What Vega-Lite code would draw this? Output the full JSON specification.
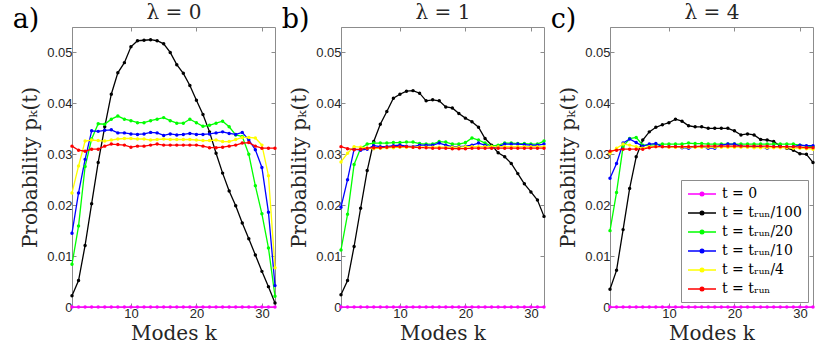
{
"$schema": "https://vega.github.io/schema/vega-lite/v6.json",
"background": "white",
"padding": {"left": 12, "top": 2, "right": 4, "bottom": 2},
"config": {
 "view": {"stroke": "#8c8c8c", "strokeWidth": 1},
 "axis": {"labelFont": "Liberation Sans, Arial, Helvetica, sans-serif", "labelFontSize": 13, "labelColor": "#262626", "titleFont": "DejaVu Serif, Liberation Serif, serif", "titleFontSize": 20, "titleFontWeight": "normal", "titleColor": "#262626", "domainColor": "#8c8c8c", "tickColor": "#8c8c8c", "tickSize": -4, "grid": false, "labelPadding": 4},
 "title": {"font": "DejaVu Serif, Liberation Serif, serif", "fontSize": 27, "fontWeight": "normal", "anchor": "start", "frame": "bounds", "color": "#000000"},
 "concat": {"spacing": 2}
},
"data": {"values": [
{"g":"a","s":"t0","k":1,"p":0},{"g":"a","s":"t0","k":2,"p":0},{"g":"a","s":"t0","k":3,"p":0},{"g":"a","s":"t0","k":4,"p":0},{"g":"a","s":"t0","k":5,"p":0},{"g":"a","s":"t0","k":6,"p":0},{"g":"a","s":"t0","k":7,"p":0},{"g":"a","s":"t0","k":8,"p":0},{"g":"a","s":"t0","k":9,"p":0},{"g":"a","s":"t0","k":10,"p":0},{"g":"a","s":"t0","k":11,"p":0},{"g":"a","s":"t0","k":12,"p":0},{"g":"a","s":"t0","k":13,"p":0},{"g":"a","s":"t0","k":14,"p":0},{"g":"a","s":"t0","k":15,"p":0},{"g":"a","s":"t0","k":16,"p":0},{"g":"a","s":"t0","k":17,"p":0},{"g":"a","s":"t0","k":18,"p":0},{"g":"a","s":"t0","k":19,"p":0},{"g":"a","s":"t0","k":20,"p":0},{"g":"a","s":"t0","k":21,"p":0},{"g":"a","s":"t0","k":22,"p":0},{"g":"a","s":"t0","k":23,"p":0},{"g":"a","s":"t0","k":24,"p":0},{"g":"a","s":"t0","k":25,"p":0},{"g":"a","s":"t0","k":26,"p":0},{"g":"a","s":"t0","k":27,"p":0},{"g":"a","s":"t0","k":28,"p":0},{"g":"a","s":"t0","k":29,"p":0},{"g":"a","s":"t0","k":30,"p":0},{"g":"a","s":"t0","k":31,"p":0},{"g":"a","s":"t0","k":32,"p":0},
{"g":"a","s":"t100","k":1,"p":0.0022},{"g":"a","s":"t100","k":2,"p":0.0052},{"g":"a","s":"t100","k":3,"p":0.0121},{"g":"a","s":"t100","k":4,"p":0.0203},{"g":"a","s":"t100","k":5,"p":0.0284},{"g":"a","s":"t100","k":6,"p":0.0354},{"g":"a","s":"t100","k":7,"p":0.0418},{"g":"a","s":"t100","k":8,"p":0.046},{"g":"a","s":"t100","k":9,"p":0.048},{"g":"a","s":"t100","k":10,"p":0.0511},{"g":"a","s":"t100","k":11,"p":0.0523},{"g":"a","s":"t100","k":12,"p":0.0524},{"g":"a","s":"t100","k":13,"p":0.0525},{"g":"a","s":"t100","k":14,"p":0.0523},{"g":"a","s":"t100","k":15,"p":0.0517},{"g":"a","s":"t100","k":16,"p":0.05},{"g":"a","s":"t100","k":17,"p":0.0476},{"g":"a","s":"t100","k":18,"p":0.0459},{"g":"a","s":"t100","k":19,"p":0.0435},{"g":"a","s":"t100","k":20,"p":0.0406},{"g":"a","s":"t100","k":21,"p":0.0378},{"g":"a","s":"t100","k":22,"p":0.0344},{"g":"a","s":"t100","k":23,"p":0.0302},{"g":"a","s":"t100","k":24,"p":0.0263},{"g":"a","s":"t100","k":25,"p":0.0228},{"g":"a","s":"t100","k":26,"p":0.0199},{"g":"a","s":"t100","k":27,"p":0.0165},{"g":"a","s":"t100","k":28,"p":0.0134},{"g":"a","s":"t100","k":29,"p":0.0102},{"g":"a","s":"t100","k":30,"p":0.007},{"g":"a","s":"t100","k":31,"p":0.004},{"g":"a","s":"t100","k":32,"p":0.0008},
{"g":"a","s":"t20","k":1,"p":0.0084},{"g":"a","s":"t20","k":2,"p":0.0159},{"g":"a","s":"t20","k":3,"p":0.0276},{"g":"a","s":"t20","k":4,"p":0.033},{"g":"a","s":"t20","k":5,"p":0.036},{"g":"a","s":"t20","k":6,"p":0.0359},{"g":"a","s":"t20","k":7,"p":0.0369},{"g":"a","s":"t20","k":8,"p":0.0375},{"g":"a","s":"t20","k":9,"p":0.0369},{"g":"a","s":"t20","k":10,"p":0.0366},{"g":"a","s":"t20","k":11,"p":0.0362},{"g":"a","s":"t20","k":12,"p":0.0362},{"g":"a","s":"t20","k":13,"p":0.0366},{"g":"a","s":"t20","k":14,"p":0.0369},{"g":"a","s":"t20","k":15,"p":0.0372},{"g":"a","s":"t20","k":16,"p":0.0366},{"g":"a","s":"t20","k":17,"p":0.0361},{"g":"a","s":"t20","k":18,"p":0.0361},{"g":"a","s":"t20","k":19,"p":0.0369},{"g":"a","s":"t20","k":20,"p":0.0362},{"g":"a","s":"t20","k":21,"p":0.0355},{"g":"a","s":"t20","k":22,"p":0.0357},{"g":"a","s":"t20","k":23,"p":0.0361},{"g":"a","s":"t20","k":24,"p":0.0365},{"g":"a","s":"t20","k":25,"p":0.0354},{"g":"a","s":"t20","k":26,"p":0.0338},{"g":"a","s":"t20","k":27,"p":0.0335},{"g":"a","s":"t20","k":28,"p":0.03},{"g":"a","s":"t20","k":29,"p":0.0238},{"g":"a","s":"t20","k":30,"p":0.0183},{"g":"a","s":"t20","k":31,"p":0.0116},{"g":"a","s":"t20","k":32,"p":0.0021},
{"g":"a","s":"t10","k":1,"p":0.0145},{"g":"a","s":"t10","k":2,"p":0.0224},{"g":"a","s":"t10","k":3,"p":0.029},{"g":"a","s":"t10","k":4,"p":0.0346},{"g":"a","s":"t10","k":5,"p":0.0345},{"g":"a","s":"t10","k":6,"p":0.0347},{"g":"a","s":"t10","k":7,"p":0.0348},{"g":"a","s":"t10","k":8,"p":0.0342},{"g":"a","s":"t10","k":9,"p":0.0342},{"g":"a","s":"t10","k":10,"p":0.034},{"g":"a","s":"t10","k":11,"p":0.0339},{"g":"a","s":"t10","k":12,"p":0.034},{"g":"a","s":"t10","k":13,"p":0.0343},{"g":"a","s":"t10","k":14,"p":0.0342},{"g":"a","s":"t10","k":15,"p":0.0337},{"g":"a","s":"t10","k":16,"p":0.034},{"g":"a","s":"t10","k":17,"p":0.0338},{"g":"a","s":"t10","k":18,"p":0.0339},{"g":"a","s":"t10","k":19,"p":0.0341},{"g":"a","s":"t10","k":20,"p":0.0339},{"g":"a","s":"t10","k":21,"p":0.0339},{"g":"a","s":"t10","k":22,"p":0.034},{"g":"a","s":"t10","k":23,"p":0.0342},{"g":"a","s":"t10","k":24,"p":0.0344},{"g":"a","s":"t10","k":25,"p":0.0341},{"g":"a","s":"t10","k":26,"p":0.0339},{"g":"a","s":"t10","k":27,"p":0.0343},{"g":"a","s":"t10","k":28,"p":0.0328},{"g":"a","s":"t10","k":29,"p":0.0309},{"g":"a","s":"t10","k":30,"p":0.0274},{"g":"a","s":"t10","k":31,"p":0.0186},{"g":"a","s":"t10","k":32,"p":0.0042},
{"g":"a","s":"t4","k":1,"p":0.0224},{"g":"a","s":"t4","k":2,"p":0.0277},{"g":"a","s":"t4","k":3,"p":0.0326},{"g":"a","s":"t4","k":4,"p":0.0328},{"g":"a","s":"t4","k":5,"p":0.0327},{"g":"a","s":"t4","k":6,"p":0.0326},{"g":"a","s":"t4","k":7,"p":0.0328},{"g":"a","s":"t4","k":8,"p":0.033},{"g":"a","s":"t4","k":9,"p":0.0331},{"g":"a","s":"t4","k":10,"p":0.0331},{"g":"a","s":"t4","k":11,"p":0.033},{"g":"a","s":"t4","k":12,"p":0.033},{"g":"a","s":"t4","k":13,"p":0.0328},{"g":"a","s":"t4","k":14,"p":0.0329},{"g":"a","s":"t4","k":15,"p":0.033},{"g":"a","s":"t4","k":16,"p":0.0329},{"g":"a","s":"t4","k":17,"p":0.0329},{"g":"a","s":"t4","k":18,"p":0.0329},{"g":"a","s":"t4","k":19,"p":0.0329},{"g":"a","s":"t4","k":20,"p":0.0328},{"g":"a","s":"t4","k":21,"p":0.0327},{"g":"a","s":"t4","k":22,"p":0.0327},{"g":"a","s":"t4","k":23,"p":0.0328},{"g":"a","s":"t4","k":24,"p":0.0325},{"g":"a","s":"t4","k":25,"p":0.0325},{"g":"a","s":"t4","k":26,"p":0.0329},{"g":"a","s":"t4","k":27,"p":0.0333},{"g":"a","s":"t4","k":28,"p":0.0333},{"g":"a","s":"t4","k":29,"p":0.0332},{"g":"a","s":"t4","k":30,"p":0.0318},{"g":"a","s":"t4","k":31,"p":0.0258},{"g":"a","s":"t4","k":32,"p":0.0077},
{"g":"a","s":"t1","k":1,"p":0.0316},{"g":"a","s":"t1","k":2,"p":0.0308},{"g":"a","s":"t1","k":3,"p":0.0306},{"g":"a","s":"t1","k":4,"p":0.031},{"g":"a","s":"t1","k":5,"p":0.031},{"g":"a","s":"t1","k":6,"p":0.0316},{"g":"a","s":"t1","k":7,"p":0.032},{"g":"a","s":"t1","k":8,"p":0.0319},{"g":"a","s":"t1","k":9,"p":0.0318},{"g":"a","s":"t1","k":10,"p":0.0314},{"g":"a","s":"t1","k":11,"p":0.0316},{"g":"a","s":"t1","k":12,"p":0.0316},{"g":"a","s":"t1","k":13,"p":0.0318},{"g":"a","s":"t1","k":14,"p":0.032},{"g":"a","s":"t1","k":15,"p":0.0318},{"g":"a","s":"t1","k":16,"p":0.0318},{"g":"a","s":"t1","k":17,"p":0.0318},{"g":"a","s":"t1","k":18,"p":0.0318},{"g":"a","s":"t1","k":19,"p":0.0318},{"g":"a","s":"t1","k":20,"p":0.0318},{"g":"a","s":"t1","k":21,"p":0.0316},{"g":"a","s":"t1","k":22,"p":0.0313},{"g":"a","s":"t1","k":23,"p":0.0313},{"g":"a","s":"t1","k":24,"p":0.0314},{"g":"a","s":"t1","k":25,"p":0.0316},{"g":"a","s":"t1","k":26,"p":0.0318},{"g":"a","s":"t1","k":27,"p":0.0322},{"g":"a","s":"t1","k":28,"p":0.0323},{"g":"a","s":"t1","k":29,"p":0.0316},{"g":"a","s":"t1","k":30,"p":0.0312},{"g":"a","s":"t1","k":31,"p":0.0312},{"g":"a","s":"t1","k":32,"p":0.0312},
{"g":"b","s":"t0","k":1,"p":0},{"g":"b","s":"t0","k":2,"p":0},{"g":"b","s":"t0","k":3,"p":0},{"g":"b","s":"t0","k":4,"p":0},{"g":"b","s":"t0","k":5,"p":0},{"g":"b","s":"t0","k":6,"p":0},{"g":"b","s":"t0","k":7,"p":0},{"g":"b","s":"t0","k":8,"p":0},{"g":"b","s":"t0","k":9,"p":0},{"g":"b","s":"t0","k":10,"p":0},{"g":"b","s":"t0","k":11,"p":0},{"g":"b","s":"t0","k":12,"p":0},{"g":"b","s":"t0","k":13,"p":0},{"g":"b","s":"t0","k":14,"p":0},{"g":"b","s":"t0","k":15,"p":0},{"g":"b","s":"t0","k":16,"p":0},{"g":"b","s":"t0","k":17,"p":0},{"g":"b","s":"t0","k":18,"p":0},{"g":"b","s":"t0","k":19,"p":0},{"g":"b","s":"t0","k":20,"p":0},{"g":"b","s":"t0","k":21,"p":0},{"g":"b","s":"t0","k":22,"p":0},{"g":"b","s":"t0","k":23,"p":0},{"g":"b","s":"t0","k":24,"p":0},{"g":"b","s":"t0","k":25,"p":0},{"g":"b","s":"t0","k":26,"p":0},{"g":"b","s":"t0","k":27,"p":0},{"g":"b","s":"t0","k":28,"p":0},{"g":"b","s":"t0","k":29,"p":0},{"g":"b","s":"t0","k":30,"p":0},{"g":"b","s":"t0","k":31,"p":0},{"g":"b","s":"t0","k":32,"p":0},
{"g":"b","s":"t100","k":1,"p":0.0024},{"g":"b","s":"t100","k":2,"p":0.0052},{"g":"b","s":"t100","k":3,"p":0.0119},{"g":"b","s":"t100","k":4,"p":0.0194},{"g":"b","s":"t100","k":5,"p":0.0268},{"g":"b","s":"t100","k":6,"p":0.0325},{"g":"b","s":"t100","k":7,"p":0.0359},{"g":"b","s":"t100","k":8,"p":0.0384},{"g":"b","s":"t100","k":9,"p":0.041},{"g":"b","s":"t100","k":10,"p":0.0418},{"g":"b","s":"t100","k":11,"p":0.0424},{"g":"b","s":"t100","k":12,"p":0.0425},{"g":"b","s":"t100","k":13,"p":0.042},{"g":"b","s":"t100","k":14,"p":0.0405},{"g":"b","s":"t100","k":15,"p":0.0407},{"g":"b","s":"t100","k":16,"p":0.0405},{"g":"b","s":"t100","k":17,"p":0.0393},{"g":"b","s":"t100","k":18,"p":0.0391},{"g":"b","s":"t100","k":19,"p":0.038},{"g":"b","s":"t100","k":20,"p":0.0371},{"g":"b","s":"t100","k":21,"p":0.0364},{"g":"b","s":"t100","k":22,"p":0.0353},{"g":"b","s":"t100","k":23,"p":0.0331},{"g":"b","s":"t100","k":24,"p":0.0318},{"g":"b","s":"t100","k":25,"p":0.0303},{"g":"b","s":"t100","k":26,"p":0.0295},{"g":"b","s":"t100","k":27,"p":0.0282},{"g":"b","s":"t100","k":28,"p":0.0262},{"g":"b","s":"t100","k":29,"p":0.0242},{"g":"b","s":"t100","k":30,"p":0.0226},{"g":"b","s":"t100","k":31,"p":0.021},{"g":"b","s":"t100","k":32,"p":0.0178},
{"g":"b","s":"t20","k":1,"p":0.0112},{"g":"b","s":"t20","k":2,"p":0.0182},{"g":"b","s":"t20","k":3,"p":0.028},{"g":"b","s":"t20","k":4,"p":0.0312},{"g":"b","s":"t20","k":5,"p":0.032},{"g":"b","s":"t20","k":6,"p":0.0322},{"g":"b","s":"t20","k":7,"p":0.0322},{"g":"b","s":"t20","k":8,"p":0.0322},{"g":"b","s":"t20","k":9,"p":0.0323},{"g":"b","s":"t20","k":10,"p":0.0323},{"g":"b","s":"t20","k":11,"p":0.0324},{"g":"b","s":"t20","k":12,"p":0.0324},{"g":"b","s":"t20","k":13,"p":0.0321},{"g":"b","s":"t20","k":14,"p":0.032},{"g":"b","s":"t20","k":15,"p":0.032},{"g":"b","s":"t20","k":16,"p":0.0325},{"g":"b","s":"t20","k":17,"p":0.0324},{"g":"b","s":"t20","k":18,"p":0.032},{"g":"b","s":"t20","k":19,"p":0.032},{"g":"b","s":"t20","k":20,"p":0.0323},{"g":"b","s":"t20","k":21,"p":0.0332},{"g":"b","s":"t20","k":22,"p":0.0328},{"g":"b","s":"t20","k":23,"p":0.0322},{"g":"b","s":"t20","k":24,"p":0.0316},{"g":"b","s":"t20","k":25,"p":0.0318},{"g":"b","s":"t20","k":26,"p":0.0322},{"g":"b","s":"t20","k":27,"p":0.0322},{"g":"b","s":"t20","k":28,"p":0.0321},{"g":"b","s":"t20","k":29,"p":0.0321},{"g":"b","s":"t20","k":30,"p":0.032},{"g":"b","s":"t20","k":31,"p":0.032},{"g":"b","s":"t20","k":32,"p":0.0326},
{"g":"b","s":"t10","k":1,"p":0.0196},{"g":"b","s":"t10","k":2,"p":0.025},{"g":"b","s":"t10","k":3,"p":0.031},{"g":"b","s":"t10","k":4,"p":0.0308},{"g":"b","s":"t10","k":5,"p":0.031},{"g":"b","s":"t10","k":6,"p":0.0317},{"g":"b","s":"t10","k":7,"p":0.0315},{"g":"b","s":"t10","k":8,"p":0.0315},{"g":"b","s":"t10","k":9,"p":0.0317},{"g":"b","s":"t10","k":10,"p":0.0318},{"g":"b","s":"t10","k":11,"p":0.0316},{"g":"b","s":"t10","k":12,"p":0.0315},{"g":"b","s":"t10","k":13,"p":0.0318},{"g":"b","s":"t10","k":14,"p":0.0318},{"g":"b","s":"t10","k":15,"p":0.0318},{"g":"b","s":"t10","k":16,"p":0.0322},{"g":"b","s":"t10","k":17,"p":0.0318},{"g":"b","s":"t10","k":18,"p":0.0315},{"g":"b","s":"t10","k":19,"p":0.0315},{"g":"b","s":"t10","k":20,"p":0.0316},{"g":"b","s":"t10","k":21,"p":0.0318},{"g":"b","s":"t10","k":22,"p":0.0322},{"g":"b","s":"t10","k":23,"p":0.0318},{"g":"b","s":"t10","k":24,"p":0.0313},{"g":"b","s":"t10","k":25,"p":0.0315},{"g":"b","s":"t10","k":26,"p":0.032},{"g":"b","s":"t10","k":27,"p":0.032},{"g":"b","s":"t10","k":28,"p":0.032},{"g":"b","s":"t10","k":29,"p":0.0319},{"g":"b","s":"t10","k":30,"p":0.0318},{"g":"b","s":"t10","k":31,"p":0.0318},{"g":"b","s":"t10","k":32,"p":0.032},
{"g":"b","s":"t4","k":1,"p":0.0285},{"g":"b","s":"t4","k":2,"p":0.0302},{"g":"b","s":"t4","k":3,"p":0.0315},{"g":"b","s":"t4","k":4,"p":0.0314},{"g":"b","s":"t4","k":5,"p":0.0312},{"g":"b","s":"t4","k":6,"p":0.0311},{"g":"b","s":"t4","k":7,"p":0.0312},{"g":"b","s":"t4","k":8,"p":0.0313},{"g":"b","s":"t4","k":9,"p":0.0313},{"g":"b","s":"t4","k":10,"p":0.0314},{"g":"b","s":"t4","k":11,"p":0.0314},{"g":"b","s":"t4","k":12,"p":0.0314},{"g":"b","s":"t4","k":13,"p":0.0314},{"g":"b","s":"t4","k":14,"p":0.0314},{"g":"b","s":"t4","k":15,"p":0.0314},{"g":"b","s":"t4","k":16,"p":0.0314},{"g":"b","s":"t4","k":17,"p":0.0314},{"g":"b","s":"t4","k":18,"p":0.0314},{"g":"b","s":"t4","k":19,"p":0.0314},{"g":"b","s":"t4","k":20,"p":0.0315},{"g":"b","s":"t4","k":21,"p":0.0315},{"g":"b","s":"t4","k":22,"p":0.0315},{"g":"b","s":"t4","k":23,"p":0.0315},{"g":"b","s":"t4","k":24,"p":0.0315},{"g":"b","s":"t4","k":25,"p":0.0315},{"g":"b","s":"t4","k":26,"p":0.0315},{"g":"b","s":"t4","k":27,"p":0.0315},{"g":"b","s":"t4","k":28,"p":0.0315},{"g":"b","s":"t4","k":29,"p":0.0315},{"g":"b","s":"t4","k":30,"p":0.0315},{"g":"b","s":"t4","k":31,"p":0.0315},{"g":"b","s":"t4","k":32,"p":0.0315},
{"g":"b","s":"t1","k":1,"p":0.0315},{"g":"b","s":"t1","k":2,"p":0.0311},{"g":"b","s":"t1","k":3,"p":0.0309},{"g":"b","s":"t1","k":4,"p":0.031},{"g":"b","s":"t1","k":5,"p":0.0312},{"g":"b","s":"t1","k":6,"p":0.0313},{"g":"b","s":"t1","k":7,"p":0.0313},{"g":"b","s":"t1","k":8,"p":0.0314},{"g":"b","s":"t1","k":9,"p":0.0315},{"g":"b","s":"t1","k":10,"p":0.0315},{"g":"b","s":"t1","k":11,"p":0.0315},{"g":"b","s":"t1","k":12,"p":0.0314},{"g":"b","s":"t1","k":13,"p":0.0313},{"g":"b","s":"t1","k":14,"p":0.0313},{"g":"b","s":"t1","k":15,"p":0.0312},{"g":"b","s":"t1","k":16,"p":0.0312},{"g":"b","s":"t1","k":17,"p":0.0312},{"g":"b","s":"t1","k":18,"p":0.0311},{"g":"b","s":"t1","k":19,"p":0.0311},{"g":"b","s":"t1","k":20,"p":0.0311},{"g":"b","s":"t1","k":21,"p":0.0312},{"g":"b","s":"t1","k":22,"p":0.0312},{"g":"b","s":"t1","k":23,"p":0.0312},{"g":"b","s":"t1","k":24,"p":0.0312},{"g":"b","s":"t1","k":25,"p":0.0312},{"g":"b","s":"t1","k":26,"p":0.0312},{"g":"b","s":"t1","k":27,"p":0.0312},{"g":"b","s":"t1","k":28,"p":0.0312},{"g":"b","s":"t1","k":29,"p":0.0312},{"g":"b","s":"t1","k":30,"p":0.0312},{"g":"b","s":"t1","k":31,"p":0.0312},{"g":"b","s":"t1","k":32,"p":0.0312},
{"g":"c","s":"t0","k":1,"p":0},{"g":"c","s":"t0","k":2,"p":0},{"g":"c","s":"t0","k":3,"p":0},{"g":"c","s":"t0","k":4,"p":0},{"g":"c","s":"t0","k":5,"p":0},{"g":"c","s":"t0","k":6,"p":0},{"g":"c","s":"t0","k":7,"p":0},{"g":"c","s":"t0","k":8,"p":0},{"g":"c","s":"t0","k":9,"p":0},{"g":"c","s":"t0","k":10,"p":0},{"g":"c","s":"t0","k":11,"p":0},{"g":"c","s":"t0","k":12,"p":0},{"g":"c","s":"t0","k":13,"p":0},{"g":"c","s":"t0","k":14,"p":0},{"g":"c","s":"t0","k":15,"p":0},{"g":"c","s":"t0","k":16,"p":0},{"g":"c","s":"t0","k":17,"p":0},{"g":"c","s":"t0","k":18,"p":0},{"g":"c","s":"t0","k":19,"p":0},{"g":"c","s":"t0","k":20,"p":0},{"g":"c","s":"t0","k":21,"p":0},{"g":"c","s":"t0","k":22,"p":0},{"g":"c","s":"t0","k":23,"p":0},{"g":"c","s":"t0","k":24,"p":0},{"g":"c","s":"t0","k":25,"p":0},{"g":"c","s":"t0","k":26,"p":0},{"g":"c","s":"t0","k":27,"p":0},{"g":"c","s":"t0","k":28,"p":0},{"g":"c","s":"t0","k":29,"p":0},{"g":"c","s":"t0","k":30,"p":0},{"g":"c","s":"t0","k":31,"p":0},{"g":"c","s":"t0","k":32,"p":0},
{"g":"c","s":"t100","k":1,"p":0.0035},{"g":"c","s":"t100","k":2,"p":0.0072},{"g":"c","s":"t100","k":3,"p":0.0152},{"g":"c","s":"t100","k":4,"p":0.0233},{"g":"c","s":"t100","k":5,"p":0.0295},{"g":"c","s":"t100","k":6,"p":0.0328},{"g":"c","s":"t100","k":7,"p":0.0344},{"g":"c","s":"t100","k":8,"p":0.0353},{"g":"c","s":"t100","k":9,"p":0.0358},{"g":"c","s":"t100","k":10,"p":0.0362},{"g":"c","s":"t100","k":11,"p":0.0369},{"g":"c","s":"t100","k":12,"p":0.0365},{"g":"c","s":"t100","k":13,"p":0.0356},{"g":"c","s":"t100","k":14,"p":0.0354},{"g":"c","s":"t100","k":15,"p":0.0354},{"g":"c","s":"t100","k":16,"p":0.0351},{"g":"c","s":"t100","k":17,"p":0.0351},{"g":"c","s":"t100","k":18,"p":0.0351},{"g":"c","s":"t100","k":19,"p":0.0351},{"g":"c","s":"t100","k":20,"p":0.0346},{"g":"c","s":"t100","k":21,"p":0.0338},{"g":"c","s":"t100","k":22,"p":0.034},{"g":"c","s":"t100","k":23,"p":0.0338},{"g":"c","s":"t100","k":24,"p":0.0329},{"g":"c","s":"t100","k":25,"p":0.0328},{"g":"c","s":"t100","k":26,"p":0.0325},{"g":"c","s":"t100","k":27,"p":0.0316},{"g":"c","s":"t100","k":28,"p":0.0312},{"g":"c","s":"t100","k":29,"p":0.0308},{"g":"c","s":"t100","k":30,"p":0.0301},{"g":"c","s":"t100","k":31,"p":0.03},{"g":"c","s":"t100","k":32,"p":0.0284},
{"g":"c","s":"t20","k":1,"p":0.015},{"g":"c","s":"t20","k":2,"p":0.0225},{"g":"c","s":"t20","k":3,"p":0.0315},{"g":"c","s":"t20","k":4,"p":0.0331},{"g":"c","s":"t20","k":5,"p":0.0333},{"g":"c","s":"t20","k":6,"p":0.0318},{"g":"c","s":"t20","k":7,"p":0.0318},{"g":"c","s":"t20","k":8,"p":0.0319},{"g":"c","s":"t20","k":9,"p":0.032},{"g":"c","s":"t20","k":10,"p":0.032},{"g":"c","s":"t20","k":11,"p":0.032},{"g":"c","s":"t20","k":12,"p":0.032},{"g":"c","s":"t20","k":13,"p":0.0322},{"g":"c","s":"t20","k":14,"p":0.0321},{"g":"c","s":"t20","k":15,"p":0.0321},{"g":"c","s":"t20","k":16,"p":0.032},{"g":"c","s":"t20","k":17,"p":0.032},{"g":"c","s":"t20","k":18,"p":0.032},{"g":"c","s":"t20","k":19,"p":0.032},{"g":"c","s":"t20","k":20,"p":0.032},{"g":"c","s":"t20","k":21,"p":0.032},{"g":"c","s":"t20","k":22,"p":0.032},{"g":"c","s":"t20","k":23,"p":0.032},{"g":"c","s":"t20","k":24,"p":0.032},{"g":"c","s":"t20","k":25,"p":0.032},{"g":"c","s":"t20","k":26,"p":0.032},{"g":"c","s":"t20","k":27,"p":0.032},{"g":"c","s":"t20","k":28,"p":0.032},{"g":"c","s":"t20","k":29,"p":0.032},{"g":"c","s":"t20","k":30,"p":0.0318},{"g":"c","s":"t20","k":31,"p":0.0316},{"g":"c","s":"t20","k":32,"p":0.0315},
{"g":"c","s":"t10","k":1,"p":0.0253},{"g":"c","s":"t10","k":2,"p":0.0282},{"g":"c","s":"t10","k":3,"p":0.0322},{"g":"c","s":"t10","k":4,"p":0.033},{"g":"c","s":"t10","k":5,"p":0.0323},{"g":"c","s":"t10","k":6,"p":0.0316},{"g":"c","s":"t10","k":7,"p":0.032},{"g":"c","s":"t10","k":8,"p":0.0321},{"g":"c","s":"t10","k":9,"p":0.0315},{"g":"c","s":"t10","k":10,"p":0.0315},{"g":"c","s":"t10","k":11,"p":0.0315},{"g":"c","s":"t10","k":12,"p":0.0313},{"g":"c","s":"t10","k":13,"p":0.0312},{"g":"c","s":"t10","k":14,"p":0.0315},{"g":"c","s":"t10","k":15,"p":0.0315},{"g":"c","s":"t10","k":16,"p":0.0312},{"g":"c","s":"t10","k":17,"p":0.0312},{"g":"c","s":"t10","k":18,"p":0.0318},{"g":"c","s":"t10","k":19,"p":0.032},{"g":"c","s":"t10","k":20,"p":0.032},{"g":"c","s":"t10","k":21,"p":0.0316},{"g":"c","s":"t10","k":22,"p":0.0315},{"g":"c","s":"t10","k":23,"p":0.0315},{"g":"c","s":"t10","k":24,"p":0.0315},{"g":"c","s":"t10","k":25,"p":0.0312},{"g":"c","s":"t10","k":26,"p":0.0315},{"g":"c","s":"t10","k":27,"p":0.0315},{"g":"c","s":"t10","k":28,"p":0.0315},{"g":"c","s":"t10","k":29,"p":0.0315},{"g":"c","s":"t10","k":30,"p":0.0318},{"g":"c","s":"t10","k":31,"p":0.0317},{"g":"c","s":"t10","k":32,"p":0.0317},
{"g":"c","s":"t4","k":1,"p":0.0302},{"g":"c","s":"t4","k":2,"p":0.0312},{"g":"c","s":"t4","k":3,"p":0.032},{"g":"c","s":"t4","k":4,"p":0.0318},{"g":"c","s":"t4","k":5,"p":0.0315},{"g":"c","s":"t4","k":6,"p":0.0312},{"g":"c","s":"t4","k":7,"p":0.0315},{"g":"c","s":"t4","k":8,"p":0.0315},{"g":"c","s":"t4","k":9,"p":0.0315},{"g":"c","s":"t4","k":10,"p":0.0314},{"g":"c","s":"t4","k":11,"p":0.0314},{"g":"c","s":"t4","k":12,"p":0.0314},{"g":"c","s":"t4","k":13,"p":0.0314},{"g":"c","s":"t4","k":14,"p":0.0314},{"g":"c","s":"t4","k":15,"p":0.0314},{"g":"c","s":"t4","k":16,"p":0.0314},{"g":"c","s":"t4","k":17,"p":0.0314},{"g":"c","s":"t4","k":18,"p":0.0314},{"g":"c","s":"t4","k":19,"p":0.0314},{"g":"c","s":"t4","k":20,"p":0.0314},{"g":"c","s":"t4","k":21,"p":0.0314},{"g":"c","s":"t4","k":22,"p":0.0314},{"g":"c","s":"t4","k":23,"p":0.0313},{"g":"c","s":"t4","k":24,"p":0.0313},{"g":"c","s":"t4","k":25,"p":0.0313},{"g":"c","s":"t4","k":26,"p":0.0313},{"g":"c","s":"t4","k":27,"p":0.0313},{"g":"c","s":"t4","k":28,"p":0.0313},{"g":"c","s":"t4","k":29,"p":0.0312},{"g":"c","s":"t4","k":30,"p":0.0312},{"g":"c","s":"t4","k":31,"p":0.0311},{"g":"c","s":"t4","k":32,"p":0.031},
{"g":"c","s":"t1","k":1,"p":0.0306},{"g":"c","s":"t1","k":2,"p":0.0308},{"g":"c","s":"t1","k":3,"p":0.031},{"g":"c","s":"t1","k":4,"p":0.031},{"g":"c","s":"t1","k":5,"p":0.031},{"g":"c","s":"t1","k":6,"p":0.031},{"g":"c","s":"t1","k":7,"p":0.0313},{"g":"c","s":"t1","k":8,"p":0.0315},{"g":"c","s":"t1","k":9,"p":0.0315},{"g":"c","s":"t1","k":10,"p":0.0315},{"g":"c","s":"t1","k":11,"p":0.0315},{"g":"c","s":"t1","k":12,"p":0.0315},{"g":"c","s":"t1","k":13,"p":0.0315},{"g":"c","s":"t1","k":14,"p":0.0315},{"g":"c","s":"t1","k":15,"p":0.0316},{"g":"c","s":"t1","k":16,"p":0.0316},{"g":"c","s":"t1","k":17,"p":0.0316},{"g":"c","s":"t1","k":18,"p":0.0316},{"g":"c","s":"t1","k":19,"p":0.0316},{"g":"c","s":"t1","k":20,"p":0.0316},{"g":"c","s":"t1","k":21,"p":0.0316},{"g":"c","s":"t1","k":22,"p":0.0316},{"g":"c","s":"t1","k":23,"p":0.0316},{"g":"c","s":"t1","k":24,"p":0.0316},{"g":"c","s":"t1","k":25,"p":0.0316},{"g":"c","s":"t1","k":26,"p":0.0315},{"g":"c","s":"t1","k":27,"p":0.0315},{"g":"c","s":"t1","k":28,"p":0.0315},{"g":"c","s":"t1","k":29,"p":0.0315},{"g":"c","s":"t1","k":30,"p":0.0314},{"g":"c","s":"t1","k":31,"p":0.0313},{"g":"c","s":"t1","k":32,"p":0.0313}
]},
"resolve": {"legend": {"color": "independent"}},
"hconcat": [
 {
  "width": 203, "height": 280,
  "title": {"text": "a)", "offset": -31, "dx": -8},
  "transform": [{"filter": "datum.g == 'a'"}],
  "resolve": {"axis": {"x": "independent", "y": "independent"}},
  "layer": [
   {"mark": {"type": "line", "strokeWidth": 1.3, "point": {"filled": true, "size": 12}},
    "encoding": {
     "x": {"field": "k", "type": "quantitative", "scale": {"domain": [1, 32], "nice": false, "zero": false}, "axis": {"orient": "bottom", "values": [10, 20, 30], "title": "Modes k", "titlePadding": 3}},
     "y": {"field": "p", "type": "quantitative", "scale": {"domain": [0, 0.055], "nice": false}, "axis": {"orient": "left", "values": [0, 0.01, 0.02, 0.03, 0.04, 0.05], "format": "~g", "title": "Probability pₖ(t)", "titlePadding": 6}},
     "color": {"field": "s", "type": "nominal", "scale": {"domain": ["t0", "t100", "t20", "t10", "t4", "t1"], "range": ["#ff00ff", "#000000", "#00ff00", "#0000ff", "#ffff00", "#ff0000"]}, "legend": null}
    }},
   {"mark": {"type": "point", "opacity": 0},
    "encoding": {
     "x": {"datum": 1, "type": "quantitative", "axis": {"orient": "top", "values": [10, 20, 30], "labels": false, "domain": false, "title": "λ = 0", "titlePadding": 4}},
     "y": {"datum": 0, "type": "quantitative", "axis": {"orient": "right", "values": [0, 0.01, 0.02, 0.03, 0.04, 0.05], "labels": false, "domain": false, "title": null}}
    }}
  ]
 },
 {
  "width": 203, "height": 280,
  "title": {"text": "b)", "offset": -31, "dx": -8},
  "transform": [{"filter": "datum.g == 'b'"}],
  "resolve": {"axis": {"x": "independent", "y": "independent"}},
  "layer": [
   {"mark": {"type": "line", "strokeWidth": 1.3, "point": {"filled": true, "size": 12}},
    "encoding": {
     "x": {"field": "k", "type": "quantitative", "scale": {"domain": [1, 32], "nice": false, "zero": false}, "axis": {"orient": "bottom", "values": [10, 20, 30], "title": "Modes k", "titlePadding": 3}},
     "y": {"field": "p", "type": "quantitative", "scale": {"domain": [0, 0.055], "nice": false}, "axis": {"orient": "left", "values": [0, 0.01, 0.02, 0.03, 0.04, 0.05], "format": "~g", "title": "Probability pₖ(t)", "titlePadding": 6}},
     "color": {"field": "s", "type": "nominal", "scale": {"domain": ["t0", "t100", "t20", "t10", "t4", "t1"], "range": ["#ff00ff", "#000000", "#00ff00", "#0000ff", "#ffff00", "#ff0000"]}, "legend": null}
    }},
   {"mark": {"type": "point", "opacity": 0},
    "encoding": {
     "x": {"datum": 1, "type": "quantitative", "axis": {"orient": "top", "values": [10, 20, 30], "labels": false, "domain": false, "title": "λ = 1", "titlePadding": 4}},
     "y": {"datum": 0, "type": "quantitative", "axis": {"orient": "right", "values": [0, 0.01, 0.02, 0.03, 0.04, 0.05], "labels": false, "domain": false, "title": null}}
    }}
  ]
 },
 {
  "width": 203, "height": 280,
  "title": {"text": "c)", "offset": -31, "dx": -8},
  "transform": [{"filter": "datum.g == 'c'"}],
  "resolve": {"axis": {"x": "independent", "y": "independent"}},
  "layer": [
   {"mark": {"type": "line", "strokeWidth": 1.3, "point": {"filled": true, "size": 12}},
    "encoding": {
     "x": {"field": "k", "type": "quantitative", "scale": {"domain": [1, 32], "nice": false, "zero": false}, "axis": {"orient": "bottom", "values": [10, 20, 30], "title": "Modes k", "titlePadding": 3}},
     "y": {"field": "p", "type": "quantitative", "scale": {"domain": [0, 0.055], "nice": false}, "axis": {"orient": "left", "values": [0, 0.01, 0.02, 0.03, 0.04, 0.05], "format": "~g", "title": "Probability pₖ(t)", "titlePadding": 6}},
     "color": {"field": "s", "type": "nominal", "scale": {"domain": ["t0", "t100", "t20", "t10", "t4", "t1"], "range": ["#ff00ff", "#000000", "#00ff00", "#0000ff", "#ffff00", "#ff0000"]},
      "legend": {"orient": "bottom-right", "offset": 5, "title": null, "labelFont": "DejaVu Serif, Liberation Serif, serif", "labelFontSize": 14, "labelColor": "#000000", "labelExpr": "{'t0': 't = 0', 't100': 't = tᵣᵤₙ/100', 't20': 't = tᵣᵤₙ/20', 't10': 't = tᵣᵤₙ/10', 't4': 't = tᵣᵤₙ/4', 't1': 't = tᵣᵤₙ'}[datum.label]", "symbolType": "M-2,0H2M-0.25,0a0.25,0.25 0 1,0 0.5,0a0.25,0.25 0 1,0 -0.5,0", "symbolSize": 196, "symbolOffset": 7, "symbolStrokeWidth": 1.5, "strokeColor": "#8c8c8c", "fillColor": "white", "padding": 6, "rowPadding": 4, "labelOffset": 12}}
    }},
   {"mark": {"type": "point", "opacity": 0},
    "encoding": {
     "x": {"datum": 1, "type": "quantitative", "axis": {"orient": "top", "values": [10, 20, 30], "labels": false, "domain": false, "title": "λ = 4", "titlePadding": 4}},
     "y": {"datum": 0, "type": "quantitative", "axis": {"orient": "right", "values": [0, 0.01, 0.02, 0.03, 0.04, 0.05], "labels": false, "domain": false, "title": null}}
    }}
  ]
 }
]
}
